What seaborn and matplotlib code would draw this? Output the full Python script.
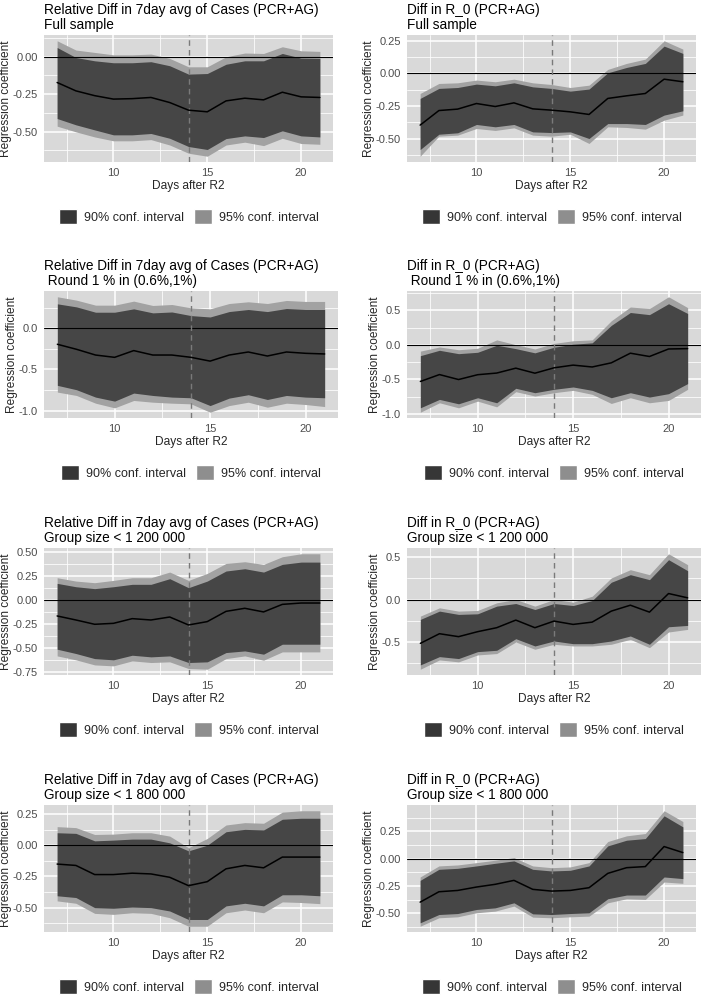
import matplotlib

matplotlib.use("Agg")
import matplotlib.pyplot as plt
import seaborn as sns
from matplotlib.patches import Patch
from matplotlib.ticker import MultipleLocator

# days after round 2
days = list(range(7, 22))

# --- Relative diff in 7day avg of cases, full sample
cases_full_coef = [-0.172, -0.228, -0.26, -0.283, -0.28, -0.272, -0.306, -0.357, -0.368, -0.295, -0.277, -0.288, -0.237, -0.268, -0.272]
cases_full_hi90 = [0.062, -0.005, -0.027, -0.04, -0.04, -0.033, -0.06, -0.116, -0.112, -0.05, -0.027, -0.027, 0.022, -0.009, -0.011]
cases_full_hi95 = [0.107, 0.045, 0.029, 0.013, 0.013, 0.018, -0.011, -0.067, -0.067, 0.0, 0.025, 0.022, 0.067, 0.04, 0.036]
cases_full_lo90 = [-0.413, -0.455, -0.489, -0.522, -0.522, -0.513, -0.545, -0.6, -0.62, -0.547, -0.529, -0.54, -0.495, -0.529, -0.536]
cases_full_lo95 = [-0.464, -0.502, -0.536, -0.562, -0.562, -0.554, -0.59, -0.645, -0.665, -0.59, -0.571, -0.594, -0.545, -0.58, -0.585]

# --- Diff in R_0, full sample
r0_full_coef = [-0.397, -0.285, -0.274, -0.231, -0.254, -0.226, -0.272, -0.282, -0.295, -0.315, -0.192, -0.172, -0.154, -0.044, -0.064]
r0_full_hi90 = [-0.192, -0.115, -0.108, -0.082, -0.095, -0.072, -0.103, -0.115, -0.136, -0.12, 0.005, 0.046, 0.077, 0.21, 0.154]
r0_full_hi95 = [-0.154, -0.077, -0.072, -0.051, -0.064, -0.044, -0.072, -0.085, -0.108, -0.09, 0.031, 0.077, 0.11, 0.251, 0.187]
r0_full_lo90 = [-0.585, -0.467, -0.456, -0.392, -0.41, -0.392, -0.449, -0.454, -0.449, -0.5, -0.385, -0.385, -0.392, -0.32, -0.287]
r0_full_lo95 = [-0.636, -0.482, -0.474, -0.423, -0.438, -0.418, -0.474, -0.482, -0.467, -0.538, -0.41, -0.415, -0.428, -0.359, -0.32]

# --- Relative diff, round 1 % in (0.6%,1%)
cases_r1_coef = [-0.193, -0.254, -0.324, -0.352, -0.27, -0.324, -0.324, -0.352, -0.398, -0.324, -0.287, -0.336, -0.287, -0.303, -0.311]
cases_r1_hi90 = [0.299, 0.262, 0.197, 0.197, 0.238, 0.189, 0.2, 0.156, 0.139, 0.205, 0.23, 0.205, 0.242, 0.23, 0.23]
cases_r1_hi95 = [0.385, 0.344, 0.283, 0.283, 0.332, 0.279, 0.291, 0.25, 0.238, 0.303, 0.324, 0.303, 0.34, 0.328, 0.328]
cases_r1_lo90 = [-0.693, -0.746, -0.836, -0.885, -0.787, -0.816, -0.836, -0.844, -0.939, -0.848, -0.807, -0.865, -0.816, -0.836, -0.844]
cases_r1_lo95 = [-0.775, -0.816, -0.91, -0.967, -0.877, -0.898, -0.91, -0.918, -1.02, -0.939, -0.898, -0.959, -0.91, -0.926, -0.951]

# --- Diff in R_0, round 1 % in (0.6%,1%)
r0_r1_coef = [-0.53, -0.43, -0.502, -0.432, -0.408, -0.337, -0.41, -0.332, -0.293, -0.32, -0.26, -0.12, -0.168, -0.059, -0.054]
r0_r1_hi90 = [-0.156, -0.078, -0.127, -0.107, -0.005, -0.054, -0.115, -0.034, 0.01, 0.03, 0.283, 0.47, 0.439, 0.597, 0.456]
r0_r1_hi95 = [-0.09, -0.03, -0.07, -0.049, 0.073, 0.003, -0.059, 0.022, 0.06, 0.073, 0.35, 0.55, 0.527, 0.698, 0.541]
r0_r1_lo90 = [-0.912, -0.79, -0.854, -0.766, -0.839, -0.629, -0.693, -0.644, -0.61, -0.659, -0.766, -0.693, -0.756, -0.707, -0.561]
r0_r1_lo95 = [-0.976, -0.839, -0.912, -0.815, -0.898, -0.678, -0.741, -0.693, -0.659, -0.717, -0.849, -0.766, -0.839, -0.805, -0.644]

# --- Relative diff, group size < 1 200 000
cases_g12_coef = [-0.17, -0.212, -0.257, -0.247, -0.198, -0.212, -0.181, -0.264, -0.229, -0.122, -0.09, -0.128, -0.049, -0.035, -0.035]
cases_g12_hi90 = [0.17, 0.135, 0.115, 0.135, 0.16, 0.16, 0.219, 0.125, 0.194, 0.299, 0.323, 0.288, 0.368, 0.392, 0.392]
cases_g12_hi95 = [0.229, 0.194, 0.177, 0.201, 0.229, 0.229, 0.288, 0.201, 0.274, 0.378, 0.396, 0.368, 0.448, 0.479, 0.479]
cases_g12_lo90 = [-0.517, -0.562, -0.615, -0.628, -0.58, -0.597, -0.587, -0.656, -0.649, -0.552, -0.535, -0.569, -0.465, -0.465, -0.465]
cases_g12_lo95 = [-0.587, -0.628, -0.681, -0.691, -0.639, -0.656, -0.649, -0.719, -0.726, -0.615, -0.587, -0.632, -0.545, -0.545, -0.545]

# --- Diff in R_0, group size < 1 200 000
r0_g12_coef = [-0.518, -0.404, -0.439, -0.38, -0.333, -0.243, -0.333, -0.255, -0.294, -0.267, -0.137, -0.067, -0.149, 0.071, 0.02]
r0_g12_hi90 = [-0.235, -0.137, -0.176, -0.169, -0.078, -0.047, -0.118, -0.047, -0.071, -0.012, 0.204, 0.294, 0.235, 0.471, 0.341]
r0_g12_hi95 = [-0.196, -0.098, -0.137, -0.129, -0.039, 0.0, -0.078, 0.0, -0.031, 0.039, 0.255, 0.353, 0.294, 0.541, 0.412]
r0_g12_lo90 = [-0.773, -0.675, -0.698, -0.616, -0.6, -0.463, -0.549, -0.49, -0.522, -0.522, -0.49, -0.431, -0.529, -0.322, -0.306]
r0_g12_lo95 = [-0.824, -0.714, -0.737, -0.655, -0.639, -0.502, -0.588, -0.529, -0.549, -0.549, -0.529, -0.471, -0.569, -0.384, -0.353]

# --- Relative diff, group size < 1 800 000
cases_g18_coef = [-0.151, -0.162, -0.235, -0.235, -0.224, -0.23, -0.257, -0.324, -0.292, -0.189, -0.162, -0.181, -0.095, -0.095, -0.095]
cases_g18_hi90 = [0.1, 0.095, 0.035, 0.041, 0.049, 0.049, 0.019, -0.045, 0.0, 0.108, 0.127, 0.122, 0.208, 0.216, 0.216]
cases_g18_hi95 = [0.149, 0.141, 0.086, 0.089, 0.1, 0.1, 0.073, -0.02, 0.054, 0.162, 0.181, 0.176, 0.265, 0.276, 0.276]
cases_g18_lo90 = [-0.405, -0.419, -0.5, -0.505, -0.495, -0.5, -0.527, -0.595, -0.595, -0.486, -0.465, -0.486, -0.397, -0.397, -0.405]
cases_g18_lo95 = [-0.446, -0.465, -0.546, -0.554, -0.541, -0.546, -0.581, -0.649, -0.649, -0.541, -0.519, -0.541, -0.454, -0.459, -0.468]

# --- Diff in R_0, group size < 1 800 000
r0_g18_coef = [-0.398, -0.303, -0.291, -0.26, -0.235, -0.199, -0.281, -0.297, -0.291, -0.266, -0.135, -0.083, -0.073, 0.11, 0.055]
r0_g18_hi90 = [-0.199, -0.098, -0.089, -0.067, -0.043, -0.021, -0.098, -0.113, -0.107, -0.067, 0.116, 0.168, 0.183, 0.391, 0.29]
r0_g18_hi95 = [-0.168, -0.067, -0.058, -0.037, -0.015, 0.009, -0.067, -0.083, -0.076, -0.037, 0.156, 0.208, 0.229, 0.437, 0.339]
r0_g18_lo90 = [-0.587, -0.511, -0.502, -0.465, -0.45, -0.404, -0.505, -0.511, -0.502, -0.495, -0.367, -0.333, -0.333, -0.168, -0.183]
r0_g18_lo95 = [-0.618, -0.541, -0.532, -0.495, -0.48, -0.434, -0.535, -0.541, -0.532, -0.526, -0.404, -0.367, -0.373, -0.214, -0.226]

cases_title = "Relative Diff in 7day avg of Cases (PCR+AG)"
r0_title = "Diff in R_0 (PCR+AG)"
subtitles = ["Full sample", " Round 1 % in (0.6%,1%)", "Group size < 1 200 000", "Group size < 1 800 000"]
y_steps = [0.25, 0.25, 0.5, 0.5, 0.25, 0.5, 0.25, 0.25]
y_decimals = [2, 2, 1, 1, 2, 1, 2, 2]
legend_labels = ["90% conf. interval", "95% conf. interval"]
r2_day = 14

panels = [
    (cases_title, cases_full_coef, cases_full_lo90, cases_full_hi90, cases_full_lo95, cases_full_hi95),
    (r0_title, r0_full_coef, r0_full_lo90, r0_full_hi90, r0_full_lo95, r0_full_hi95),
    (cases_title, cases_r1_coef, cases_r1_lo90, cases_r1_hi90, cases_r1_lo95, cases_r1_hi95),
    (r0_title, r0_r1_coef, r0_r1_lo90, r0_r1_hi90, r0_r1_lo95, r0_r1_hi95),
    (cases_title, cases_g12_coef, cases_g12_lo90, cases_g12_hi90, cases_g12_lo95, cases_g12_hi95),
    (r0_title, r0_g12_coef, r0_g12_lo90, r0_g12_hi90, r0_g12_lo95, r0_g12_hi95),
    (cases_title, cases_g18_coef, cases_g18_lo90, cases_g18_hi90, cases_g18_lo95, cases_g18_hi95),
    (r0_title, r0_g18_coef, r0_g18_lo90, r0_g18_hi90, r0_g18_lo95, r0_g18_hi95),
]

sns.set_theme(
    style="darkgrid",
    rc={
        "axes.facecolor": "#d9d9d9",
        "grid.color": "white",
        "axes.edgecolor": "none",
    },
)
plt.rcParams["font.family"] = ["Liberation Sans", "DejaVu Sans"]

W, H = 701, 996
fig = plt.figure(figsize=(W / 100, H / 100), dpi=100)

col_left = [44, 407]
col_width = [[289, 289], [294, 294], [289, 294], [289, 289]]
row_top = [35, 291, 548, 805]
panel_h = 127

band95 = "#a2a2a2"
band90 = "#464646"


def fmt_y(dec):
    def f(v, pos):
        if abs(v) < 1e-9:
            v = 0.0
        return f"{v:.{dec}f}"
    return f


for i, (title, coef, lo90, hi90, lo95, hi95) in enumerate(panels):
    r, c = divmod(i, 2)
    x0, w = col_left[c], col_width[r][c]
    rect = [x0 / W, 1 - (row_top[r] + panel_h) / H, w / W, panel_h / H]
    ax = fig.add_axes(rect)

    ax.fill_between(days, lo95, hi95, color=band95, lw=0, zorder=2)
    ax.fill_between(days, lo90, hi90, color=band90, lw=0, zorder=3)
    ax.axhline(0, color="black", lw=0.8, zorder=4)
    ax.axvline(r2_day, color="#7a7a7a", lw=1.0, ls=(0, (4, 3)), zorder=4)
    sns.lineplot(x=days, y=coef, color="black", lw=1.1, ax=ax, zorder=5)

    ymin, ymax = min(lo95), max(hi95)
    pad = (ymax - ymin) * 0.05
    ax.set_ylim(ymin - pad, ymax + pad)
    ax.set_xlim(days[0] - 0.7, days[-1] + 0.7)

    step = y_steps[i]
    ax.yaxis.set_major_locator(MultipleLocator(step))
    ax.yaxis.set_minor_locator(MultipleLocator(step / 2))
    ax.xaxis.set_major_locator(MultipleLocator(5))
    ax.xaxis.set_minor_locator(MultipleLocator(2.5))
    ax.yaxis.set_major_formatter(fmt_y(y_decimals[i]))
    ax.xaxis.set_major_formatter(lambda v, p: f"{v:.0f}")

    ax.grid(which="major", color="white", lw=1.1)
    ax.grid(which="minor", color="white", lw=0.55)
    ax.set_axisbelow(True)
    ax.tick_params(which="major", length=3, width=0.8, color="#333333",
                   labelsize=8, labelcolor="#4d4d4d", pad=1.5)
    ax.tick_params(which="minor", length=0)
    for s in ax.spines.values():
        s.set_visible(False)

    ax.set_title(f"{title}\n{subtitles[r]}", loc="left", fontsize=9.8,
                 color="black", pad=4, linespacing=1.15)
    ax.set_xlabel("Days after R2", fontsize=8.6, labelpad=1)
    ax.set_ylabel("Regression coefficient", fontsize=8.6, labelpad=0.5)

    handles = [Patch(facecolor="#363636", label=legend_labels[0]),
               Patch(facecolor="#8e8e8e", label=legend_labels[1])]
    ax.legend(handles=handles, loc="center", bbox_to_anchor=(0.5, -0.43),
              ncol=2, frameon=False, fontsize=9, handlelength=1.45,
              handleheight=1.45, handletextpad=0.55, columnspacing=0.8,
              borderaxespad=0)

fig.savefig("out.png", dpi=100)
